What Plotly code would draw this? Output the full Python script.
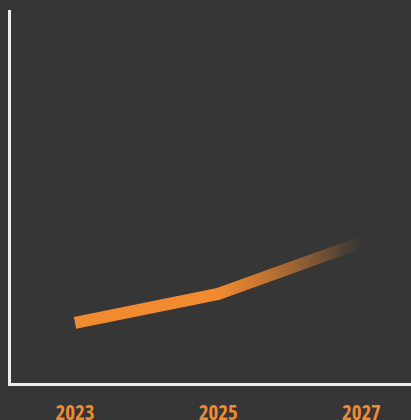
import base64
import plotly.graph_objects as go

# Data
years = [2023, 2025, 2027]
values = [16.1, 23.9, 37.7]
tick_years = [2023, 2025, 2027]
tick_labels = ["2023", "2025", "2027"]

BG = "#363636"
ORANGE = "#F28B30"
AXIS = "#eeeeee"

fig = go.Figure()
fig.add_trace(go.Scatter(
    x=years, y=values, mode="lines",
    line=dict(color=ORANGE, width=12),
    hoverinfo="skip", showlegend=False,
))

# gradient overlay that fades the line into the background after 2025
stops = [(0, 0), (0.23, 0.25), (0.42, 0.5), (0.54, 0.7), (0.66, 0.9), (0.74, 1), (1, 1)]
stop_svg = "".join(
    f"<stop offset='{o}' stop-color='{BG}' stop-opacity='{a}'/>" for o, a in stops
)
svg = (
    "<svg xmlns='http://www.w3.org/2000/svg' width='272' height='52' "
    "viewBox='0 0 272 52' preserveAspectRatio='none'>"
    "<defs><linearGradient id='fadeg' gradientUnits='userSpaceOnUse' x1='0' y1='0' x2='272' y2='0'>"
    + stop_svg +
    "</linearGradient></defs>"
    "<rect x='0' y='0' width='272' height='52' fill='url(#fadeg)'/></svg>"
)
src = "data:image/svg+xml;base64," + base64.b64encode(svg.encode()).decode()
fig.add_layout_image(dict(
    source=src, xref="x", yref="y",
    x=2025, y=70, sizex=2.72, sizey=52,
    xanchor="left", yanchor="top",
    sizing="stretch", layer="above",
))

fig.update_layout(
    width=411, height=420,
    margin=dict(l=11, r=0, t=10, b=37),
    paper_bgcolor=BG, plot_bgcolor=BG,
    xaxis=dict(
        range=[2022.106, 2027.693],
        automargin=False,
        showgrid=False, zeroline=False,
        showline=True, linecolor=AXIS, linewidth=3,
        tickmode="array", tickvals=tick_years, ticktext=tick_labels,
        ticks="", ticklabelstandoff=9,
        tickfont=dict(family="Open Sans Condensed, Roboto Condensed, sans-serif",
                      size=21, color=ORANGE, weight="bold"),
    ),
    yaxis=dict(
        range=[0, 100],
        automargin=False,
        showgrid=False, zeroline=False,
        showline=True, linecolor=AXIS, linewidth=3,
        showticklabels=False, ticks="",
    ),
)

fig.write_html("out.html")
